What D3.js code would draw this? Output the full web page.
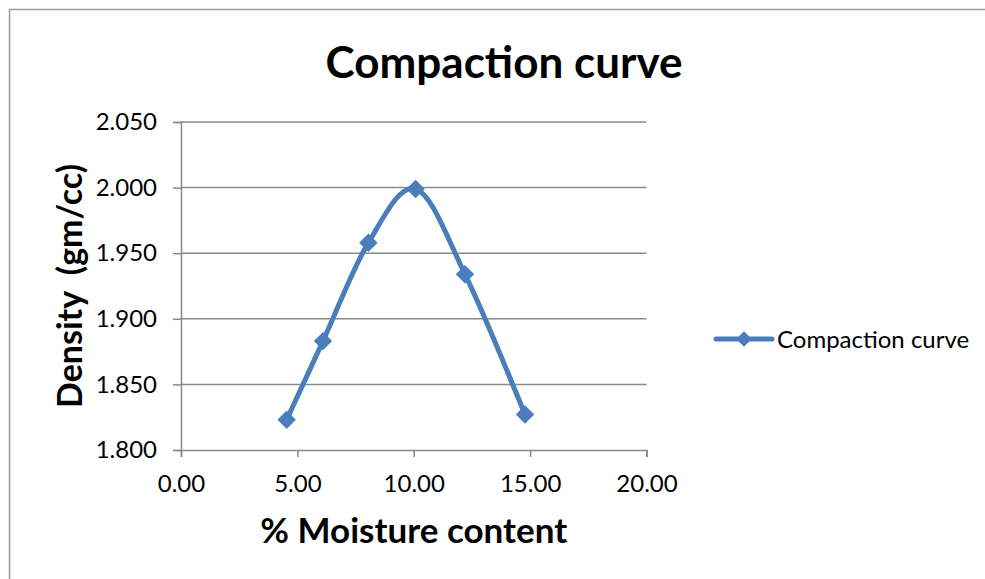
<!DOCTYPE html>
<html>
<head>
<meta charset="utf-8">
<script src="https://cdn.jsdelivr.net/npm/d3@7"></script>
<style>
  body { margin: 0; background: #fff; }
  text { font-family: Lato, "Open Sans", sans-serif; fill: #000; }
</style>
</head>
<body>
<div id="chart-area"></div>
<script>
// readings
var moisture = [4.54, 6.10, 8.05, 10.08, 12.20, 14.78];
var density = [1.823, 1.883, 1.958, 1.999, 1.934, 1.827];
var xTicks = [0, 5, 10, 15, 20];
var yTicks = [1.800, 1.850, 1.900, 1.950, 2.000, 2.050];
var seriesName = "Compaction curve";

var width = 985, height = 579;
var blue = "#4a7ebb", grey = "#8a8a8a";

var svg = d3.select("#chart-area").append("svg")
	.attr("width", width)
	.attr("height", height);

// chart frame (runs off the right and bottom)
svg.append("rect")
	.attr("x", 9.5).attr("y", 9.5)
	.attr("width", 1000).attr("height", 600)
	.attr("fill", "none")
	.attr("stroke", "#9a9a9a")
	.attr("stroke-width", 1.5);

var x = d3.scaleLinear().domain([0, 20]).range([181, 646.5]);
var y = d3.scaleLinear().domain([1.800, 2.050]).range([450, 122]);

// gridlines
svg.append("g").selectAll("line")
	.data(yTicks.slice(1))
	.enter().append("line")
		.attr("x1", x(0)).attr("x2", x(20))
		.attr("y1", function(d){ return y(d); })
		.attr("y2", function(d){ return y(d); })
		.attr("stroke", grey)
		.attr("stroke-width", 1.5);

// axes
var yAxis = svg.append("g")
	.attr("transform", "translate(" + x(0) + ",0)")
	.call(d3.axisLeft(y).tickValues(yTicks).tickFormat(d3.format(".3f")).tickSize(8).tickPadding(16));

var xAxis = svg.append("g")
	.attr("transform", "translate(0," + y(1.800) + ")")
	.call(d3.axisBottom(x).tickValues(xTicks).tickFormat(d3.format(".2f")).tickSize(7).tickPadding(18));

[xAxis, yAxis].forEach(function(g){
	g.select(".domain").attr("stroke", grey).attr("stroke-width", 1.5);
	g.selectAll(".tick line").attr("stroke", grey).attr("stroke-width", 1.5);
	g.selectAll(".tick text")
		.style("font-family", "Lato, sans-serif")
		.style("font-size", "24px")
		.attr("fill", "#000");
});

// smoothed series line
var pts = moisture.map(function(m, i){ return [m, density[i]]; });

var line = d3.line()
	.x(function(d){ return x(d[0]); })
	.y(function(d){ return y(d[1]); })
	.curve(d3.curveCardinal.tension(0));

svg.append("path")
	.datum(pts)
	.attr("d", line)
	.attr("fill", "none")
	.attr("stroke", blue)
	.attr("stroke-width", 5)
	.attr("stroke-linecap", "round");

var diamond = d3.symbol().type(d3.symbolSquare).size(170);

svg.selectAll(".marker")
	.data(pts)
	.enter().append("path")
		.attr("class", "marker")
		.attr("d", diamond)
		.attr("transform", function(d){
			return "translate(" + x(d[0]) + "," + y(d[1]) + ") rotate(45)";
		})
		.attr("fill", blue);

// titles
svg.append("text")
	.attr("x", 504).attr("y", 78)
	.attr("text-anchor", "middle")
	.style("font-size", "44px")
	.style("font-weight", "bold")
	.text("Compaction curve");

svg.append("text")
	.attr("x", (x(0) + x(20)) / 2).attr("y", 543)
	.attr("text-anchor", "middle")
	.style("font-size", "35px")
	.style("font-weight", "bold")
	.text("% Moisture content");

svg.append("text")
	.attr("transform", "translate(82," + (y(1.800) + y(2.050)) / 2 + ") rotate(-90)")
	.attr("text-anchor", "middle")
	.style("font-size", "34px")
	.style("font-weight", "bold")
	.style("white-space", "pre")
	.text("Density  (gm/cc)");

// legend
var legend = svg.append("g").attr("transform", "translate(716,339)");
legend.append("line")
	.attr("x1", 0).attr("x2", 56)
	.attr("stroke", blue)
	.attr("stroke-width", 5)
	.attr("stroke-linecap", "round");
legend.append("path")
	.attr("d", d3.symbol().type(d3.symbolSquare).size(120))
	.attr("transform", "translate(28,0) rotate(45)")
	.attr("fill", blue);
legend.append("text")
	.attr("x", 61).attr("y", 9)
	.style("font-size", "24px")
	.text(seriesName);
</script>
</body>
</html>
